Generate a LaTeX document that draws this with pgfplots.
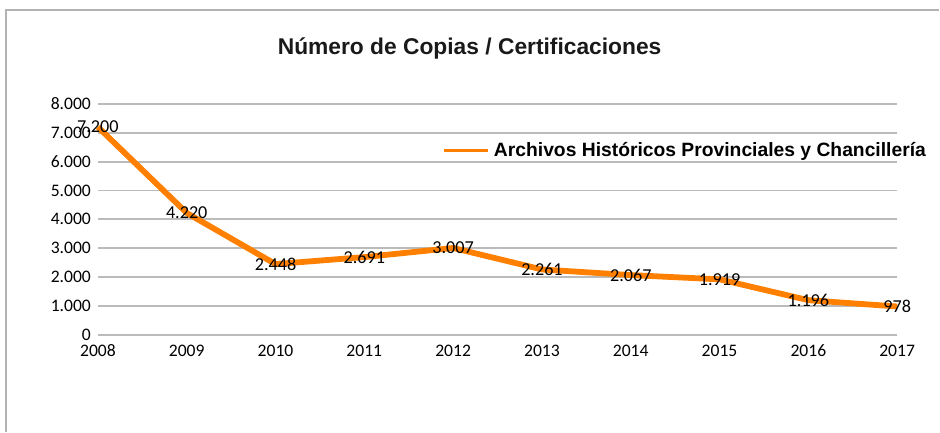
\documentclass[border=0pt]{standalone}
\usepackage{fontspec}
\setmainfont{Carlito}
\newfontfamily\arialfont{Liberation Sans}
\usepackage{pgfplots}
\pgfplotsset{compat=1.18}
\definecolor{lineorange}{HTML}{FF8000}
\definecolor{gridgray}{HTML}{BBBBBB}
\definecolor{framegray}{HTML}{B3B3B3}

\begin{document}
\begin{tikzpicture}
% page size: 470pt x 216pt (= 940 x 432 px)
\path (0,0) rectangle (470pt,216pt);
\draw[framegray, line width=0.8pt] (3pt,0) -- (3pt,211pt) -- (470pt,211pt);
\node[font=\arialfont\bfseries\fontsize{11.4}{13}\selectfont, text=black!90]
  at (235pt,191.5pt) {Número de Copias / Certificaciones};

\begin{axis}[
    at={(49pt,48.5pt)}, anchor=south west,
    scale only axis, width=400pt, height=115.5pt,
    xmin=2008, xmax=2017, ymin=0, ymax=8000,
    xtick={2008,...,2017}, ytick={0,1000,...,8000},
    scaled y ticks=false,
    axis line style={draw=none}, major tick length=0pt,
    ymajorgrids, grid style={gridgray, line width=0.9pt},
    /pgf/number format/assume math mode=true,
    /pgf/number format/1000 sep={.},
    x tick label style={/pgf/number format/1000 sep={}, yshift=-1.5pt},
    tick label style={font=\fontsize{8.8}{10}\selectfont},
    clip=false,
    nodes near coords,
    every node near coord/.append style={anchor=center, text=black,
        font=\fontsize{9.1}{10}\selectfont},
    legend style={draw=none, fill=none, at={(0.431,0.797)}, anchor=west,
        inner sep=0pt, font=\arialfont\bfseries\fontsize{9.65}{11}\selectfont},
    legend image code/.code={\draw[#1, line width=1.6pt] (0pt,0pt) -- (22pt,0pt);},
]
\addplot[lineorange, line width=2.9pt, line join=round] coordinates {
    (2008,7200) (2009,4220) (2010,2448) (2011,2691) (2012,3007)
    (2013,2261) (2014,2067) (2015,1919) (2016,1196) (2017,978)
};
\addlegendentry{Archivos Históricos Provinciales y Chancillería}
\end{axis}
\end{tikzpicture}
\end{document}
